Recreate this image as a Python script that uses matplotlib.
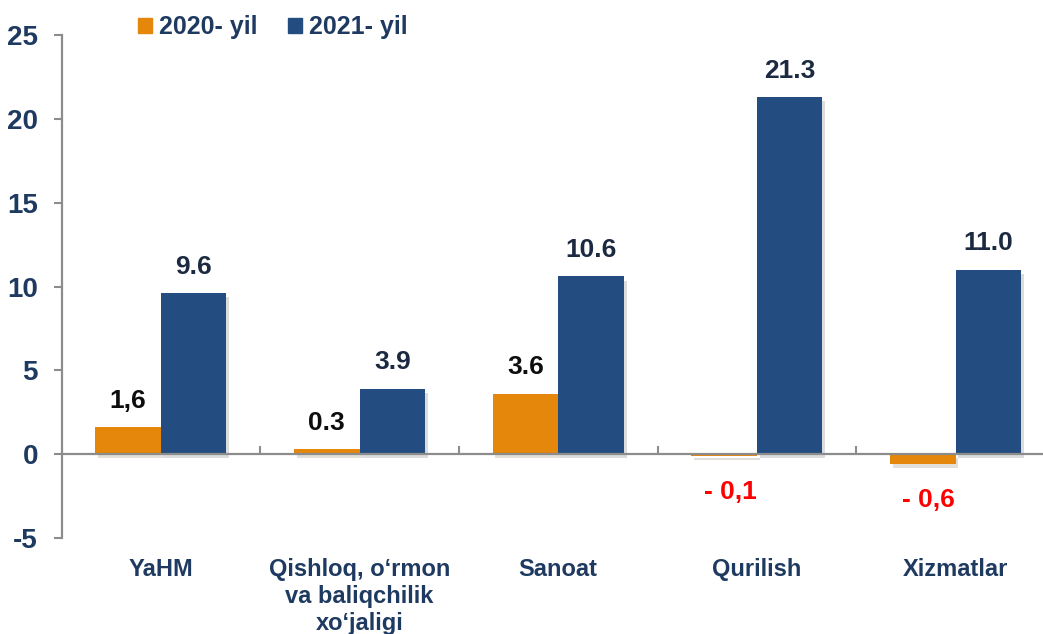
import matplotlib
matplotlib.use("Agg")
import matplotlib.pyplot as plt
import matplotlib.patheffects as pe
from matplotlib.patches import Patch
import numpy as np

plt.rcParams['font.family'] = ['Liberation Sans', 'DejaVu Sans']
plt.rcParams['font.weight'] = 'bold'
plt.rcParams['axes.unicode_minus'] = False

# data
categories = ["YaHM", "Qishloq, o\u2018rmon\nva baliqchilik\nxo\u2018jaligi", "Sanoat", "Qurilish", "Xizmatlar"]
vals_2020 = [1.6, 0.3, 3.6, -0.1, -0.6]
vals_2021 = [9.6, 3.9, 10.6, 21.3, 11.0]
labels_2020 = ["1,6", "0.3", "3.6", "- 0,1", "- 0,6"]
labels_2021 = ["9.6", "3.9", "10.6", "21.3", "11.0"]
series_names = ["2020- yil", "2021- yil"]
y_ticks = [-5, 0, 5, 10, 15, 20, 25]

ORANGE = "#E5870A"
BLUE = "#234D80"
NAVY = "#1F3A60"
GREY = "#8C8C8C"

fig = plt.figure(figsize=(10.43, 6.34), dpi=100)
ax = fig.add_axes([61.5 / 1043, 1 - 538 / 634, 1 - 61.5 / 1043, (538 - 35) / 634])

x = np.arange(len(categories))
w = 0.33
shadow = [pe.SimplePatchShadow(offset=(2, -3), alpha=0.15), pe.Normal()]
b1 = ax.bar(x - w / 2, vals_2020, w, color=ORANGE, zorder=3)
b2 = ax.bar(x + w / 2, vals_2021, w, color=BLUE, zorder=3)
for b in list(b1) + list(b2):
    b.set_path_effects(shadow)

# value labels
for xi, v, lab in zip(x, vals_2020, labels_2020):
    if v >= 0:
        ax.annotate(lab, (xi - w / 2, v), xytext=(0, 19), textcoords="offset points",
                    ha="center", va="center", fontsize=19, color="#0D0D0D")
    else:
        ax.annotate(lab, (xi - w / 2 + 0.03, v), xytext=(0, -26), textcoords="offset points",
                    ha="center", va="center", fontsize=19, color="#FF0000")
for xi, v, lab in zip(x, vals_2021, labels_2021):
    ax.annotate(lab, (xi + w / 2, v), xytext=(0, 19), textcoords="offset points",
                ha="center", va="center", fontsize=19, color="#1B2A41")

ax.set_ylim(-5, 25)
ax.set_xlim(-0.5, 4.44)
ax.set_yticks(y_ticks)
ax.tick_params(axis="y", direction="out", length=6, width=1.5, color=GREY,
               labelsize=20, labelcolor=NAVY, pad=11)

ax.spines["top"].set_visible(False)
ax.spines["right"].set_visible(False)
ax.spines["left"].set_color(GREY)
ax.spines["left"].set_linewidth(1.6)
ax.spines["bottom"].set_position(("data", 0))
ax.spines["bottom"].set_color(GREY)
ax.spines["bottom"].set_linewidth(1.6)
ax.spines["bottom"].set_zorder(4)

ax.set_xticks(x)
ax.set_xticklabels(categories, fontsize=17, color=NAVY, linespacing=1.2, va="top")
ax.set_xticks(x[:-1] + 0.5, minor=True)
ax.tick_params(axis="x", which="major", length=0, pad=75)
ax.tick_params(axis="x", which="minor", direction="in", length=6, width=1.5, color=GREY)

handles = [Patch(color=ORANGE), Patch(color=BLUE)]
leg = fig.legend(handles, series_names, loc="center left", bbox_to_anchor=(128 / 1043, 1 - 27 / 634),
                 ncol=2, frameon=False, fontsize=18, handlelength=0.55, handleheight=0.55,
                 handletextpad=0.3, columnspacing=1.2, borderaxespad=0)
for t in leg.get_texts():
    t.set_color(NAVY)

fig.savefig("out.png", dpi=100)
